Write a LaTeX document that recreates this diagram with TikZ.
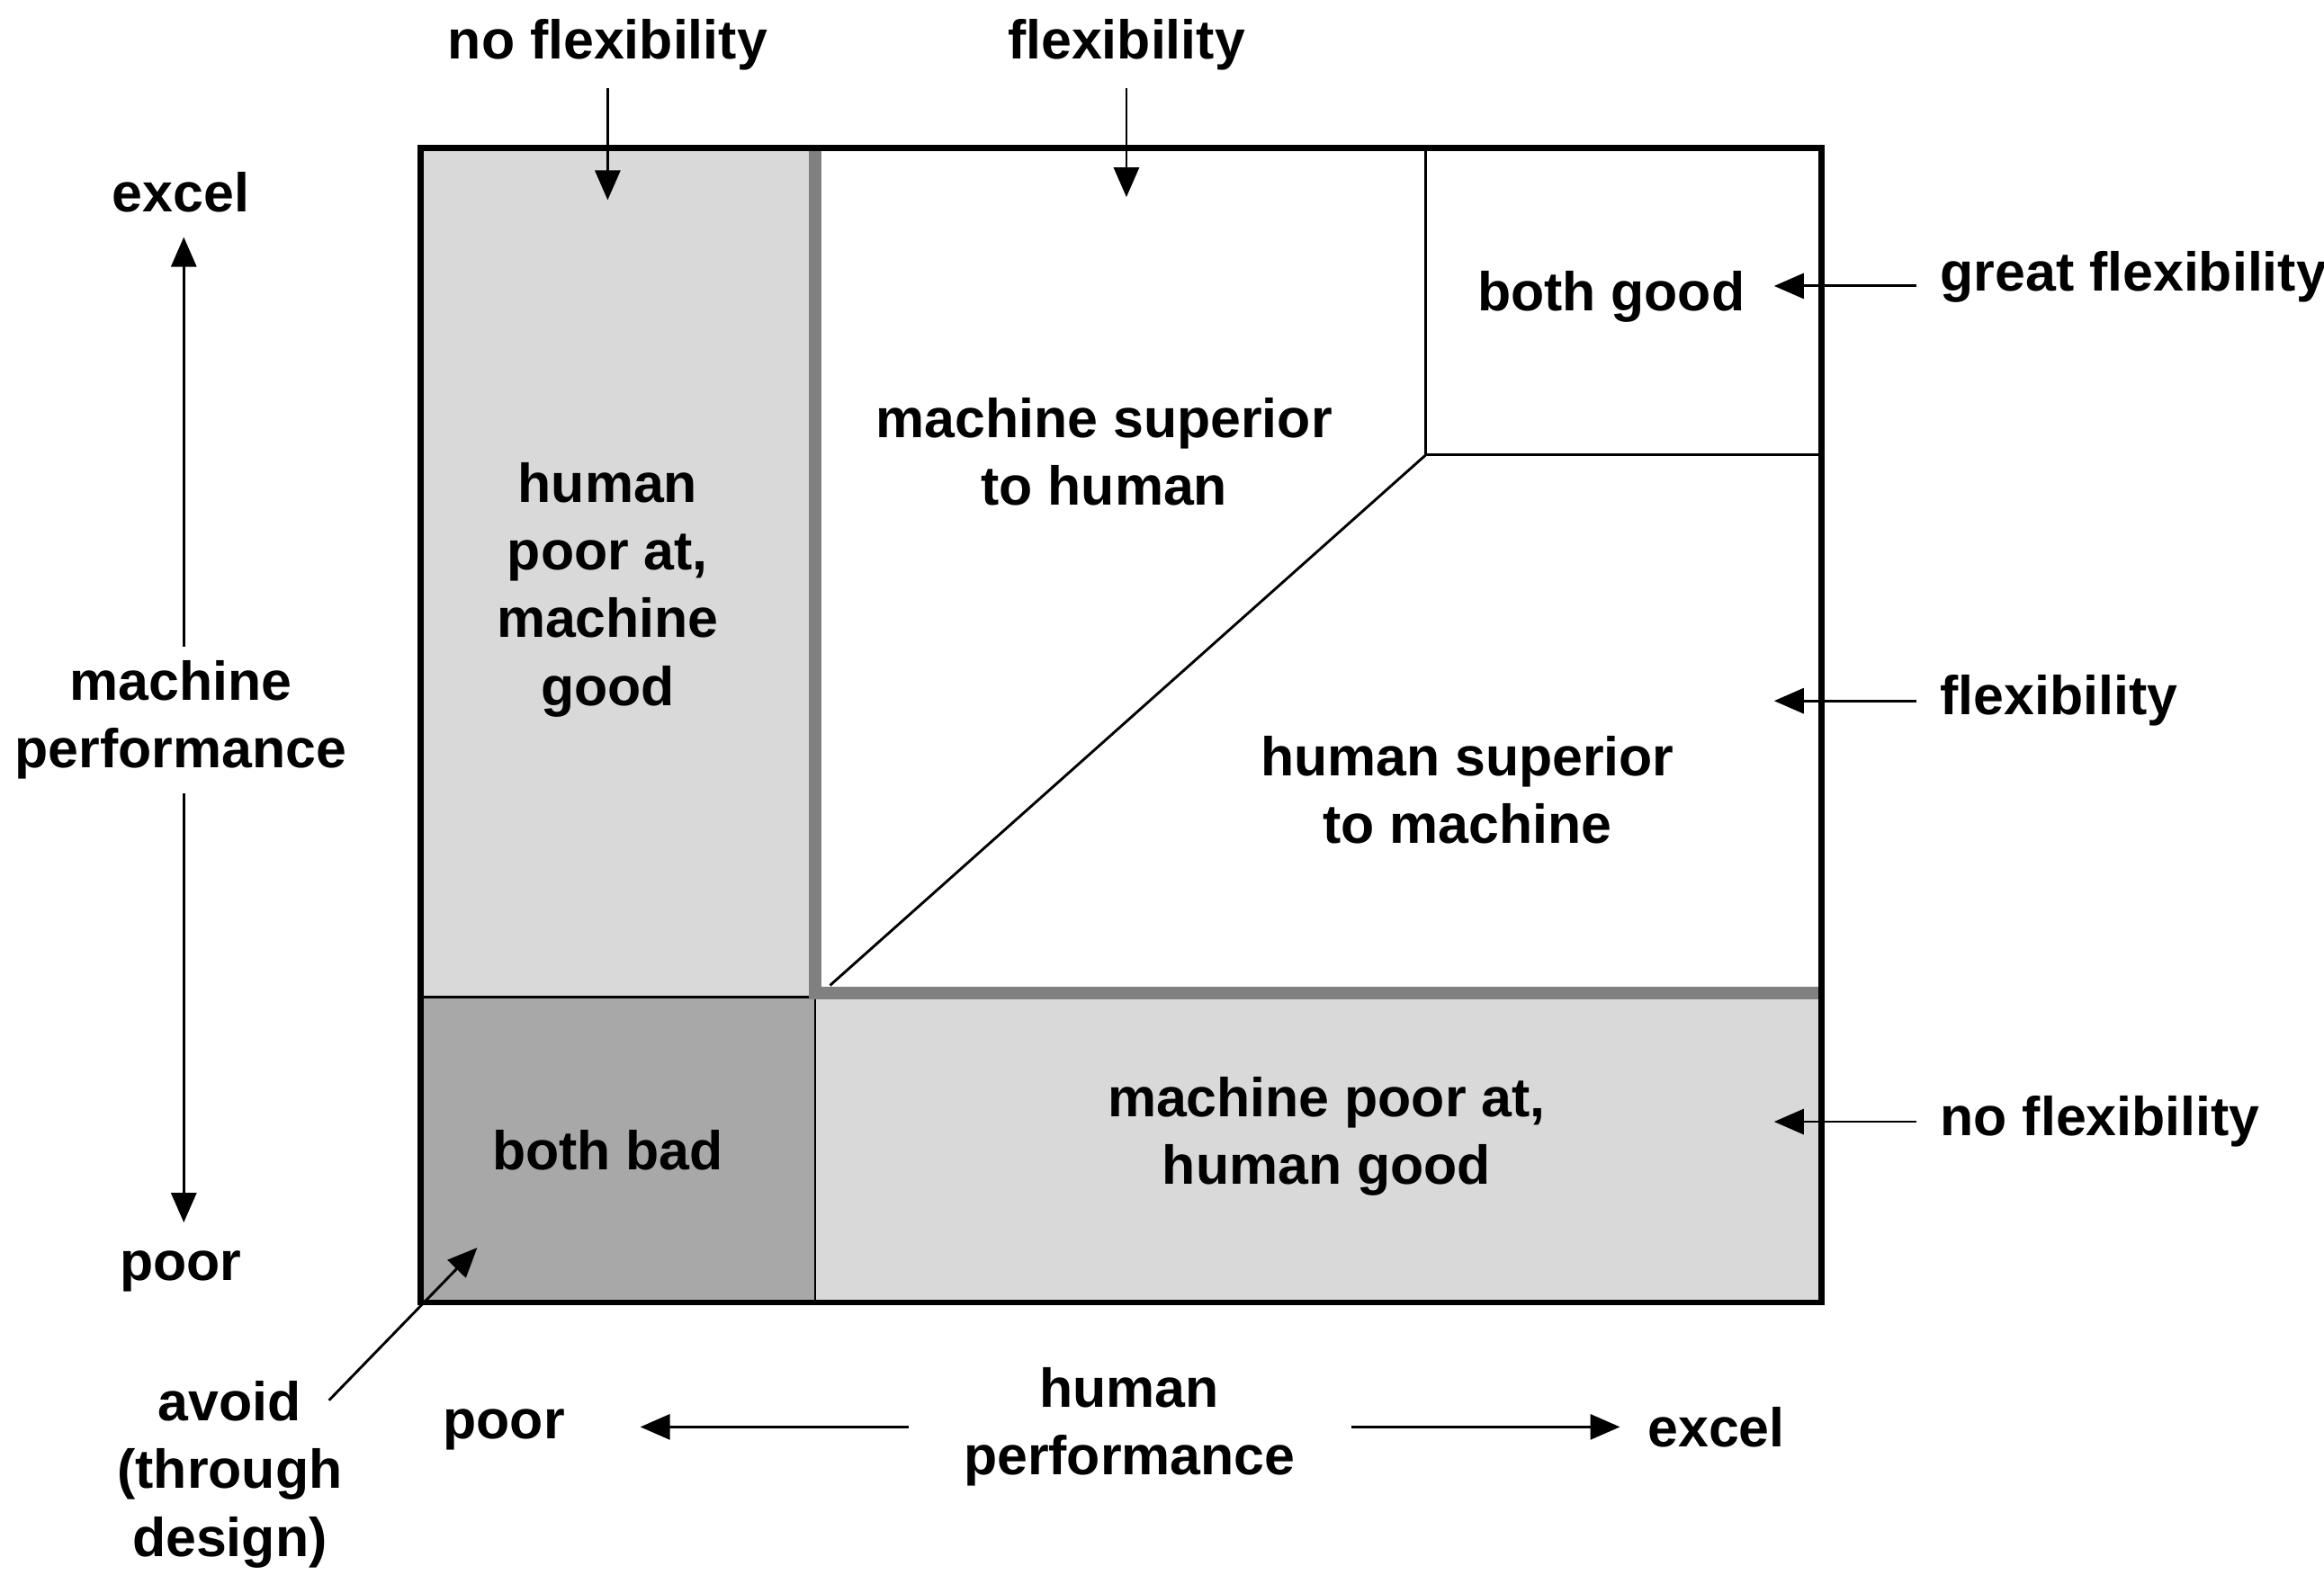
\documentclass[tikz,border=0pt]{standalone}
\usepackage{fontspec}
\setmainfont{Liberation Sans}
\usetikzlibrary{arrows.meta}
\begin{document}
\begin{tikzpicture}[x=0.01cm,y=-0.01cm,
  lbl/.style={font=\fontsize{10.5}{13}\selectfont\bfseries,align=center,inner sep=1pt},
  arr/.style={line width=0.5pt,-{Triangle[length=0.2cm,width=0.17cm]}},
  thin/.style={line width=0.5pt}]
\useasboundingbox (0,0) rectangle (1568,1075);
% fills
\fill[gray!30] (284,100) rectangle (550,673);
\fill[gray!30] (550,673) rectangle (1229,879);
\fill[gray!68] (284,673) rectangle (550,879);
\draw[thin] (284,673) -- (550,673) (550,673) -- (550,879);
% both good box and diagonal
\draw[thin] (962,100) -- (962,307) -- (1229,307);
\draw[thin] (560,665) -- (962,307);
% gray dividers
\draw[gray!110!black,line width=2.4pt,color=gray] (550,100) -- (550,670) -- (1229,670);
% outer box
\draw[line width=1.2pt] (284,100) rectangle (1229,879);
% region labels
\node[lbl] (hp) at (410,398) {human\\poor at,\\machine\\good};
\node[lbl] (ms) at (745,305) {machine superior\\to human};
\node[lbl] (bg) at (1087,200) {both good};
\node[lbl] (hs) at (990,533) {human superior\\to machine};
\node[lbl] (bb) at (410,776) {both bad};
\node[lbl] (mp) at (895,767) {machine poor at,\\human good};
% top labels
\node[lbl] (nf1) at (410,30) {no flexibility};
\node[lbl] (f1) at (760,30) {flexibility};
\coordinate (nf1e) at (410,135);
\coordinate (f1e) at (760,133);
\draw[arr] (nf1.south) ++(0,8) -- (nf1e);
\draw[arr] (f1.south) ++(0,8) -- (f1e);
% right labels
\node[lbl,anchor=west] (gf) at (1305,187) {great flexibility};
\node[lbl,anchor=west] (f2) at (1305,473) {flexibility};
\node[lbl,anchor=west] (nf2) at (1305,757) {no flexibility};
\coordinate (gfe) at (1197,193);
\coordinate (f2e) at (1197,473);
\coordinate (nf2e) at (1197,757);
\draw[arr] (1293,193) -- (gfe);
\draw[arr] (1293,473) -- (f2e);
\draw[arr] (1293,757) -- (nf2e);
% left axis
\node[lbl] (ex1) at (122,130) {excel};
\node[lbl] (mperf) at (122,486) {machine\\performance};
\node[lbl] (po1) at (122,858) {poor};
\draw[arr] (mperf.north) ++(2,-5) -- (124,160);
\draw[arr] (mperf.south) ++(2,5) -- (124,825);
% bottom axis
\node[lbl] (po2) at (340,965) {poor};
\node[lbl] (hperf) at (762,963) {human\\performance};
\node[lbl] (ex2) at (1158,963) {excel};
\draw[arr] (613,963) -- (432,963);
\draw[arr] (912,963) -- (1093,963);
% avoid
\node[lbl] (av) at (155,995) {avoid\\(through\\design)};
\coordinate (ave) at (322,842);
\draw[arr] (222,945) -- (ave);
\end{tikzpicture}
\end{document}
